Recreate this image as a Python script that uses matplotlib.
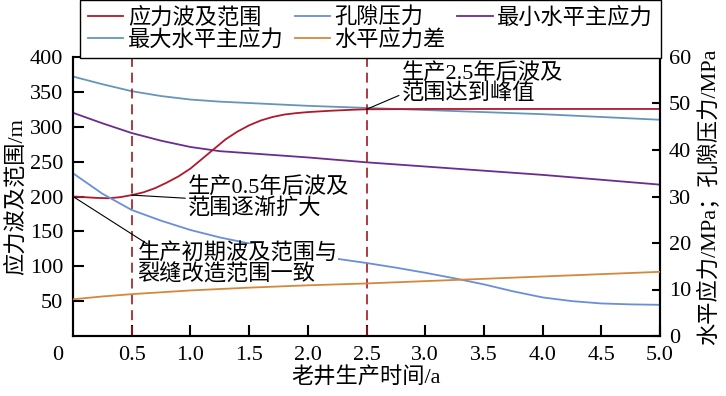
import matplotlib
matplotlib.use("Agg")
import matplotlib.pyplot as plt

plt.rcParams['font.family'] = ['Liberation Serif', 'Noto Sans CJK SC']
plt.rcParams['font.size'] = 16
plt.rcParams['axes.unicode_minus'] = False

# 应力波及范围 (left axis, m)
sweep_x = [0, 0.1, 0.2, 0.3, 0.4, 0.5, 0.6, 0.7, 0.8, 0.9, 1.0, 1.1, 1.2, 1.3,
           1.4, 1.5, 1.6, 1.7, 1.8, 1.9, 2.0, 2.2, 2.4, 2.5, 3.0, 4.0, 5.0]
sweep_y = [200, 199, 198, 197.5, 199, 202, 206, 212, 220, 229, 240, 254, 268, 282,
           293, 302, 309, 314, 317.5, 319.5, 321, 323, 324.5, 325, 325.5, 325.5, 325.5]

t = [0, 0.25, 0.5, 0.75, 1.0, 1.25, 1.5, 1.75, 2.0, 2.25, 2.5, 2.75, 3.0,
     3.25, 3.5, 3.75, 4.0, 4.25, 4.5, 4.75, 5.0]
# 最大水平主应力 / 最小水平主应力 (drawn on left axis scale)
smax = [372, 361, 351, 344, 339, 336, 334, 332, 330, 328.5, 327, 325.5, 324,
        322.5, 321, 319.5, 318, 316, 314, 312, 310]
smin = [320, 305, 291, 280, 271, 265, 262, 259, 256, 252.5, 249, 246, 243,
        240, 237, 234, 231, 227.5, 224, 220.5, 217]
# 孔隙压力 / 水平应力差 (right axis, MPa)
pore = [35, 30.6, 27.1, 24.8, 22.8, 21.2, 19.9, 18.7, 17.5, 16.6, 15.7, 14.7,
        13.6, 12.4, 11.1, 9.6, 8.3, 7.5, 7.0, 6.8, 6.7]
diff = [7.9, 8.5, 9.0, 9.4, 9.8, 10.1, 10.4, 10.65, 10.9, 11.1, 11.3, 11.55,
        11.8, 12.05, 12.3, 12.55, 12.8, 13.05, 13.3, 13.55, 13.8]

xticks = [0.5, 1.0, 1.5, 2.0, 2.5, 3.0, 3.5, 4.0, 4.5, 5.0]
marks = [0.5, 2.5]

c_red = '#b0182c'
c_pore = '#6a8ed8'
c_min = '#6a2c90'
c_max = '#6496bc'
c_diff = '#d4883c'

fig = plt.figure(figsize=(7.26, 3.96), dpi=100)
ax = fig.add_axes([73/726, 1-336/396, 587/726, 279/396])
ax2 = ax.twinx()

l1, = ax.plot(sweep_x, sweep_y, color=c_red, lw=1.3, zorder=3)
l4, = ax.plot(t, smax, color=c_max, lw=1.3)
l3, = ax.plot(t, smin, color=c_min, lw=1.3)
l2, = ax2.plot(t, pore, color=c_pore, lw=1.3)
l5, = ax2.plot(t, diff, color=c_diff, lw=1.3, zorder=5)
for m in marks:
    ax.axvline(m, color='#a01820', lw=1.2, ls=(0, (6, 3.5)))

ax.set_xlim(0, 5)
ax.set_ylim(0, 400)
ax2.set_ylim(0, 60)
ax.set_xticks(xticks)
ax.set_xticklabels([f'{v:.1f}' for v in xticks])
ax.set_yticks(range(50, 401, 50))
ax2.set_yticks(range(0, 61, 10))
ax.tick_params(axis='both', direction='in', length=8, width=1.5, pad=7)
ax2.tick_params(axis='y', direction='in', length=6, width=1.5, pad=6.5)
for a in (ax, ax2):
    a.spines['top'].set_visible(False)
    for s in ('left', 'bottom', 'right'):
        a.spines[s].set_linewidth(1.5)

ax.annotate('0', xy=(0, 0), xycoords='axes fraction', xytext=(-11, -7.5),
            textcoords='offset points', ha='center', va='top')

ax.set_xlabel('老井生产时间/a', labelpad=2)
ax.set_ylabel('应力波及范围/m', labelpad=2)
ax2.set_ylabel('水平应力/MPa；孔隙压力/MPa', labelpad=4)

box = dict(facecolor='white', edgecolor='none', pad=0)
ax2.set_zorder(1)
ax.patch.set_visible(False)
ax2.annotate('生产2.5年后波及\n范围达到峰值', xy=(2.5, 325*0.15), xytext=(2.8, 54.2),
             ha='left', va='center', linespacing=0.95,
             arrowprops=dict(arrowstyle='-', color='black', lw=0.8,
                             shrinkA=0, shrinkB=0, relpos=(0, 0.25)))
ax2.annotate('生产0.5年后波及\n范围逐渐扩大', xy=(0.5, 202*0.15), xytext=(0.98, 29.6),
             ha='left', va='center', linespacing=0.95,
             arrowprops=dict(arrowstyle='-', color='black', lw=0.8,
                             shrinkA=0, shrinkB=0, relpos=(0, 0.5)))
ax2.annotate('生产初期波及范围与\n裂缝改造范围一致', xy=(0, 200*0.15), xytext=(0.55, 15.3),
             ha='left', va='center', linespacing=0.95, bbox=box, zorder=4,
             arrowprops=dict(arrowstyle='-', color='black', lw=0.8,
                             shrinkA=0, shrinkB=0, relpos=(0.05, 1.0)))

handles = [l1, l4, l2, l5, l3]
labels = ['应力波及范围', '最大水平主应力', '孔隙压力', '水平应力差', '最小水平主应力']
fig.legend(handles, labels, loc='upper left', bbox_to_anchor=(80/726, 1.0),
           ncol=3, frameon=True, fancybox=False, edgecolor='black',
           framealpha=1, borderpad=0.35, handlelength=1.6, handletextpad=0.2,
           columnspacing=0.5, labelspacing=0.0, borderaxespad=0)

fig.savefig('out.png', dpi=100)
